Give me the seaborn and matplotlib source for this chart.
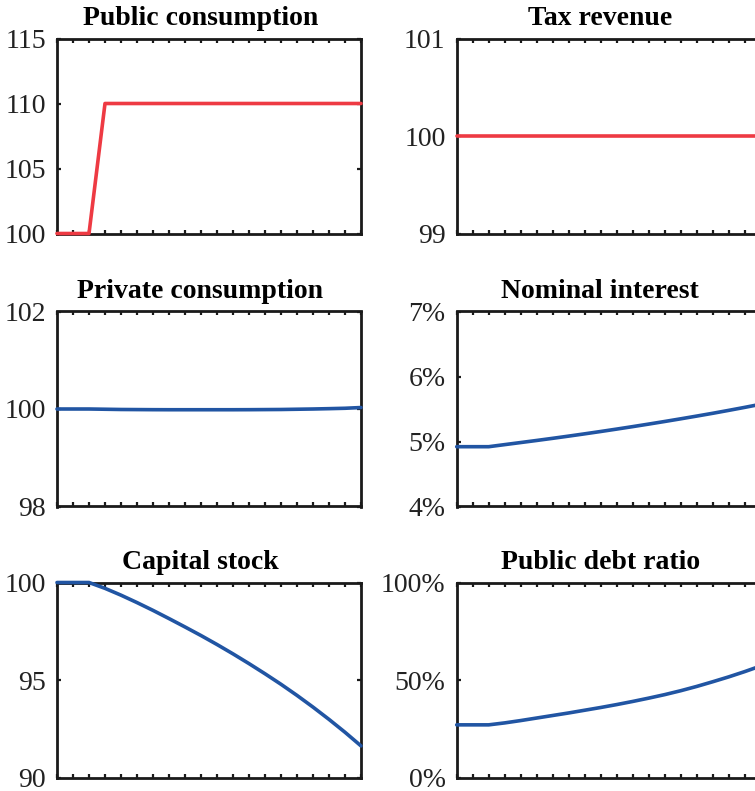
import numpy as np
import pandas as pd
import matplotlib
matplotlib.use("Agg")
import matplotlib.pyplot as plt
from matplotlib.ticker import FuncFormatter, FixedLocator
import seaborn as sns

# ---- data ----
periods = list(range(20))
public_consumption = [100, 100, 100] + [110] * 17
tax_revenue = [100] * 20
private_consumption = [100.0, 100.0, 100.0, 99.995, 99.99, 99.988, 99.986, 99.985, 99.985,
                       99.985, 99.985, 99.985, 99.986, 99.988, 99.99, 99.995, 100.0, 100.007,
                       100.015, 100.03]
nominal_interest = [4.92, 4.92, 4.92, 4.952, 4.984, 5.016, 5.049, 5.083, 5.118, 5.154,
                    5.191, 5.229, 5.268, 5.308, 5.349, 5.391, 5.434, 5.479, 5.525, 5.573]
capital_stock = [100, 100, 100, 99.7, 99.35, 98.97, 98.57, 98.15, 97.72, 97.28,
                 96.82, 96.34, 95.84, 95.32, 94.78, 94.21, 93.61, 92.98, 92.32, 91.62]
public_debt_ratio = [27, 27, 27, 28.0, 29.2, 30.5, 31.8, 33.1, 34.5, 35.9,
                     37.4, 39.0, 40.7, 42.5, 44.5, 46.7, 49.1, 51.6, 54.3, 57.2]

titles = ["Public consumption", "Tax revenue", "Private consumption",
          "Nominal interest", "Capital stock", "Public debt ratio"]
series = [public_consumption, tax_revenue, private_consumption,
          nominal_interest, capital_stock, public_debt_ratio]
yticks = [[100, 105, 110, 115], [99, 100, 101], [98, 100, 102],
          [4, 5, 6, 7], [90, 95, 100], [0, 50, 100]]
percent = [False, False, False, True, False, True]

RED = "#EE3A43"
BLUE = "#2155A3"
colors = [RED, RED, BLUE, BLUE, BLUE, BLUE]

# ---- style ----
sns.set_style("ticks")
plt.rcParams["font.family"] = ["Liberation Serif", "DejaVu Serif"]
plt.rcParams["axes.linewidth"] = 2.0

fig = plt.figure(figsize=(7.55, 7.91), dpi=100)

W = 304 / 755
H = 195 / 791
lefts = [57 / 755, 456.7 / 755]
bottoms = [1 - 233.5 / 791, 1 - 506.5 / 791, 1 - 777.5 / 791]

for i in range(6):
    r, c = divmod(i, 2)
    ax = fig.add_axes([lefts[c], bottoms[r], W, H])
    df = pd.DataFrame({"t": periods, "v": series[i]})
    sns.lineplot(data=df, x="t", y="v", ax=ax, color=colors[i], linewidth=2.6,
                 clip_on=False, zorder=5)
    ax.set_xlim(0, 19)
    ax.set_ylim(yticks[i][0], yticks[i][-1])
    ax.xaxis.set_major_locator(FixedLocator(periods))
    ax.set_yticks(yticks[i])
    if percent[i]:
        ax.yaxis.set_major_formatter(FuncFormatter(lambda v, p: f"{v:g}%"))
    else:
        ax.yaxis.set_major_formatter(FuncFormatter(lambda v, p: f"{v:g}"))
    ax.set_xticklabels([])
    ax.set_xlabel("")
    ax.set_ylabel("")
    ax.tick_params(axis="both", which="major", direction="in", top=True, right=True,
                   length=3.2, width=1.6, color="#1a1a1a", labelsize=20, pad=8,
                   labelcolor="#222222")
    for sp in ax.spines.values():
        sp.set_visible(True)
        sp.set_color("#1a1a1a")
        sp.set_linewidth(2.0)
    t = ax.set_title(titles[i], fontsize=20, fontweight="bold", pad=9.5, color="black")
    t.set_x(0.472)

fig.savefig("out.png", dpi=100)
